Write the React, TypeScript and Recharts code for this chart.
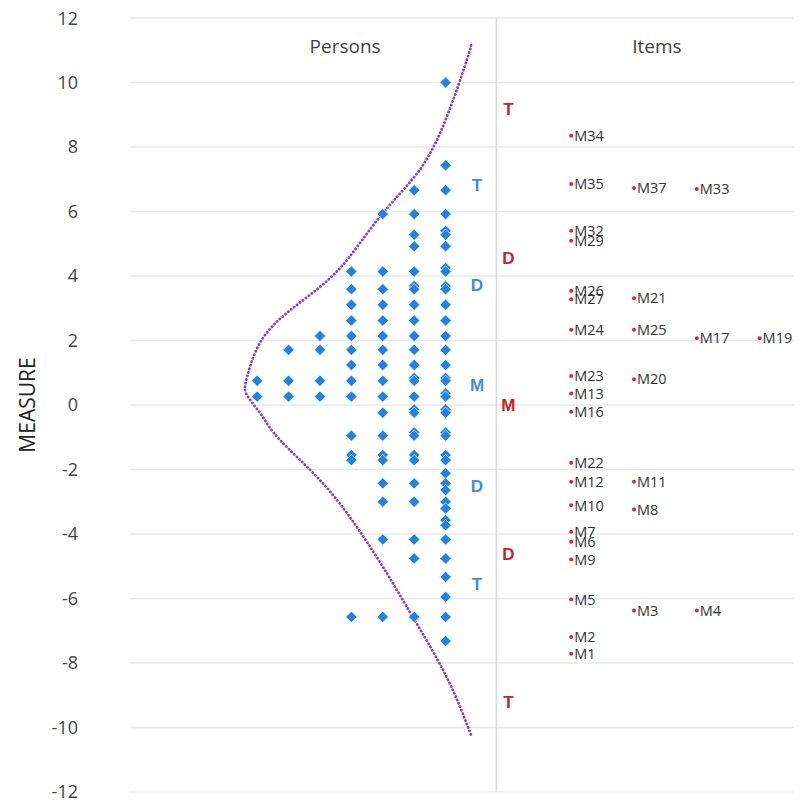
import React from 'react';
import { ScatterChart, Scatter, XAxis, YAxis, CartesianGrid, ReferenceLine } from 'recharts';

// ---- data ----
const measureTicks = [-12, -10, -8, -6, -4, -2, 0, 2, 4, 6, 8, 10, 12];

// person rows: measure value and number of persons at that measure
const personMeasures = [
  10.0, 7.43, 6.66, 5.92, 5.4, 5.28, 4.92, 4.25, 4.14, 3.69, 3.59, 3.11, 2.62, 2.14, 1.71, 1.24,
  0.84, 0.75, 0.36, 0.26, -0.14, -0.24, -0.85, -0.95, -1.55, -1.71, -2.12, -2.43, -2.64, -3.0,
  -3.21, -3.57, -3.73, -4.17, -4.76, -5.33, -5.95, -6.57, -7.32,
];
const personCounts = [
  1, 1, 2, 3, 1, 2, 2, 1, 4, 2, 4, 4, 4, 5, 6, 4,
  2, 7, 1, 7, 2, 3, 2, 4, 4, 4, 1, 3, 1, 3,
  1, 1, 1, 3, 2, 1, 1, 4, 1,
];

const itemNames = [
  'M34', 'M35', 'M37', 'M33', 'M32', 'M29', 'M26', 'M27', 'M21', 'M24', 'M25', 'M17', 'M19',
  'M23', 'M20', 'M13', 'M16', 'M22', 'M12', 'M11', 'M10', 'M8', 'M7', 'M6', 'M9', 'M5', 'M3',
  'M4', 'M2', 'M1',
];
const itemMeasures = [
  8.35, 6.85, 6.73, 6.7, 5.4, 5.09, 3.54, 3.28, 3.31, 2.33, 2.33, 2.07, 2.07,
  0.9, 0.8, 0.36, -0.21, -1.79, -2.38, -2.38, -3.11, -3.24, -3.93, -4.24, -4.79, -6.03, -6.37,
  -6.37, -7.19, -7.71,
];
const itemColumns = [
  1, 1, 2, 3, 1, 1, 1, 1, 2, 1, 2, 3, 4,
  1, 2, 1, 1, 1, 1, 2, 1, 2, 1, 1, 1, 1, 2,
  3, 1, 1,
];

const statLabels = ['T', 'D', 'M', 'D', 'T'];
const personStatValues = [6.82, 3.72, 0.62, -2.51, -5.55];
const itemStatValues = [9.18, 4.56, 0, -4.62, -9.21];

// normal curve drawn over the person distribution
const curveX = [-0.19, -0.32, -0.96, -1.82, -2.99, -4.08, -5.0, -6.05, -6.91, -7.32, -7.39, -7.29, -6.82, -6.27, -5.0, -3.82, -2.87, -2.04, -0.96, -0.16];
const curveY = [11.15, 10.71, 8.94, 7.3, 5.96, 4.57, 3.66, 2.86, 1.93, 0.87, 0.53, 0.25, -0.37, -1.09, -2.33, -3.79, -5.22, -6.58, -8.45, -10.31];

const headerNames = ['Persons', 'Items'];

// ---- layout constants ----
const X_DOMAIN: [number, number] = [-11.05, 10.35];
const DIVIDER_X = 0.62;
const PERSON_STAT_X = 0;
const ITEM_STAT_X = 1;
const HEADER_Y = 11.12;
const HEADER_X = [-4.2, 5.73];

const BLUE = '#1f83e3';
const RED = '#e02535';

// ---- built tables ----
const personData: { x: number; y: number }[] = [];
personMeasures.forEach((m, i) => {
  for (let k = 1; k <= personCounts[i]; k++) personData.push({ x: -k, y: m });
});
const itemData = itemNames.map((name, i) => ({ x: 1 + 2 * itemColumns[i], y: itemMeasures[i], name }));
const personStatData = statLabels.map((l, i) => ({ x: PERSON_STAT_X, y: personStatValues[i], name: l }));
const itemStatData = statLabels.map((l, i) => ({ x: ITEM_STAT_X, y: itemStatValues[i], name: l }));
const curveData = curveX.map((x, i) => ({ x, y: curveY[i] }));
const headerData = headerNames.map((n, i) => ({ x: HEADER_X[i], y: HEADER_Y, name: n }));

const DiamondShape = (props: any) => {
  const { cx, cy } = props;
  const h = 5.7;
  return (
    <polygon
      points={`${cx},${cy - h} ${cx + h},${cy} ${cx},${cy + h} ${cx - h},${cy}`}
      fill={BLUE}
      stroke="#ffffff"
      strokeWidth={0.7}
    />
  );
};

const ItemShape = (props: any) => {
  const { cx, cy, payload } = props;
  return (
    <g>
      <circle cx={cx} cy={cy} r={2} fill={RED} />
      <text x={cx + 3} y={cy} dy="0.36em" fontFamily="'Open Sans', sans-serif" fontSize={14.5} fill="#333333">
        {payload.name}
      </text>
    </g>
  );
};

const makeLetterShape = (color: string) => (props: any) => {
  const { cx, cy, payload } = props;
  return (
    <text x={cx} y={cy} dy="0.36em" textAnchor="middle" fontFamily="'Liberation Sans', Arial, sans-serif" fontWeight="bold" fontSize={17} fill={color}>
      {payload.name}
    </text>
  );
};

const HeaderShape = (props: any) => {
  const { cx, cy, payload } = props;
  return (
    <text x={cx} y={cy} dy="0.36em" textAnchor="middle" fontFamily="'Open Sans', sans-serif" fontSize={19} fill="#404040">
      {payload.name}
    </text>
  );
};

const NoShape = () => <g />;

const MeasureLabel = (props: any) => {
  const vb = props.viewBox || { x: 0, y: 0, width: 0, height: 0 };
  const x = vb.x + 19;
  const y = vb.y + vb.height / 2;
  return (
    <text x={x} y={y} transform={`rotate(-90, ${x}, ${y})`} textAnchor="middle" dy="0.36em" fontFamily="'Open Sans', sans-serif" fontSize={21} fill="#222222">
      MEASURE
    </text>
  );
};

export default function App() {
  return (
    <div style={{ width: 794, height: 797 }}>
      <ScatterChart width={794} height={797} margin={{ top: 10, right: 0, bottom: 13, left: 0 }}>
        <CartesianGrid horizontal vertical={false} stroke="#e8e8e8" strokeWidth={1.3} />
        <XAxis type="number" dataKey="x" domain={X_DOMAIN} hide allowDataOverflow />
        <YAxis
          type="number"
          dataKey="y"
          domain={[-12, 12]}
          ticks={measureTicks}
          width={122}
          axisLine={false}
          tickLine={false}
          tickMargin={46}
          tick={{ fontFamily: "'Open Sans', sans-serif", fontSize: 18, fill: '#444444' }}
          label={<MeasureLabel />}
        />
        <ReferenceLine x={DIVIDER_X} stroke="#d9d9d9" strokeWidth={1.5} />
        <Scatter
          data={curveData}
          shape={NoShape}
          fill="#8e44c8"
          line={{ stroke: '#8a3cc4', strokeWidth: 2.8, strokeDasharray: '0.1 3.6', strokeLinecap: 'round' } as any}
          lineJointType="natural"
          isAnimationActive={false}
        />
        <Scatter data={personData} shape={DiamondShape} isAnimationActive={false} />
        <Scatter data={itemData} shape={ItemShape} isAnimationActive={false} />
        <Scatter data={personStatData} shape={makeLetterShape('#3b8fd8')} isAnimationActive={false} />
        <Scatter data={itemStatData} shape={makeLetterShape('#c8202c')} isAnimationActive={false} />
        <Scatter data={headerData} shape={HeaderShape} isAnimationActive={false} />
      </ScatterChart>
    </div>
  );
}
